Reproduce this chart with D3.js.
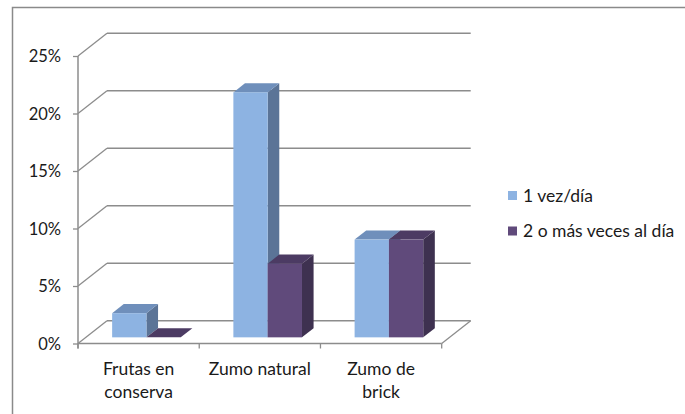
<!DOCTYPE html>
<html>
<head>
<meta charset="utf-8">
<script src="https://cdn.jsdelivr.net/npm/d3@7/dist/d3.min.js"></script>
<style>
  html, body { margin: 0; padding: 0; background: #fff; }
  svg { display: block; }
  text { font-family: Lato, "Open Sans", sans-serif; fill: #1a1a1a; }
</style>
</head>
<body>
<svg id="chart" width="685" height="414"></svg>
<script>
// Chart data
const categories = [["Frutas en", "conserva"], ["Zumo natural"], ["Zumo de", "brick"]];
const seriesNames = ["1 vez/día", "2 o más veces al día"];
const seriesOnce = [2.1, 21.3, 8.5];
const seriesTwice = [0, 6.4, 8.5];
const yTicks = [0, 5, 10, 15, 20, 25];

// Faces: front, top, side
const palettes = [
  { front: "#8db3e2", top: "#6f8fbb", side: "#5b7497" },
  { front: "#604a7b", top: "#4c3b63", side: "#3e3150" }
];

const svg = d3.select("#chart");

// Outer frame
svg.append("rect")
  .attr("x", 12.5).attr("y", 7.5)
  .attr("width", 690).attr("height", 420)
  .attr("fill", "none").attr("stroke", "#8a8a8a").attr("stroke-width", 1.5);

// Front plane geometry and oblique depth offset
const x0 = 78, x1 = 441.7;
const y = d3.scaleLinear().domain([0, 25]).range([343.5, 56]);
const depth = { dx: 29, dy: -22.8 };
const off = t => [depth.dx * t, depth.dy * t];

const xCat = d3.scaleBand().domain(d3.range(categories.length)).range([x0, x1]);

const g = svg.append("g");
const gridColor = "#8c8c8c";

// Back wall gridlines with the diagonal joins to the front axis
const [bx, by] = off(1);
yTicks.forEach(v => {
  g.append("line")
    .attr("x1", x0 + bx).attr("x2", x1 + bx)
    .attr("y1", y(v) + by).attr("y2", y(v) + by)
    .attr("stroke", gridColor).attr("stroke-width", 1.5);
  g.append("line")
    .attr("x1", x0).attr("y1", y(v))
    .attr("x2", x0 + bx).attr("y2", y(v) + by)
    .attr("stroke", gridColor).attr("stroke-width", 1.3);
});

// Floor: front edge and right edge
g.append("line")
  .attr("x1", x0).attr("x2", x1).attr("y1", y(0)).attr("y2", y(0))
  .attr("stroke", gridColor).attr("stroke-width", 1.5);
g.append("line")
  .attr("x1", x1).attr("y1", y(0)).attr("x2", x1 + bx).attr("y2", y(0) + by)
  .attr("stroke", gridColor).attr("stroke-width", 1.3);

// Category ticks under the floor
xCat.domain().concat([categories.length]).forEach(i => {
  const xx = i < categories.length ? xCat(i) : x1;
  g.append("line")
    .attr("x1", xx).attr("x2", xx).attr("y1", y(0)).attr("y2", y(0) + 5)
    .attr("stroke", gridColor).attr("stroke-width", 1.3);
});

// Value axis
const yAxis = d3.axisLeft(y).tickValues(yTicks).tickSize(5).tickSizeOuter(0)
  .tickFormat(d => d + "%");
const ag = g.append("g").attr("transform", `translate(${x0},0)`).call(yAxis);
ag.select(".domain").attr("stroke", gridColor).attr("stroke-width", 1.5)
  .attr("d", `M0,${y(25)}V${y(0) + 5}`);
ag.selectAll(".tick line").attr("stroke", gridColor).attr("stroke-width", 1.3);
ag.selectAll(".tick text")
  .attr("x", -17).attr("dy", "0.36em")
  .style("font-size", "16.5px").style("font-family", "Lato, sans-serif").attr("fill", "#1a1a1a");

// 3D bars
const tFront = 0.27, tBack = 0.67;
const [fdx, fdy] = off(tFront);
const [ddx, ddy] = [depth.dx * (tBack - tFront), depth.dy * (tBack - tFront)];
const barW = xCat.bandwidth() * 0.283;
const xSeries = d3.scaleBand().domain(d3.range(seriesNames.length))
  .range([-barW, barW]);

const allSeries = [seriesOnce, seriesTwice];
const barsG = g.append("g");
categories.forEach((c, ci) => {
  allSeries.forEach((vals, si) => {
    const v = vals[ci];
    const pal = palettes[si];
    const left = xCat(ci) + xCat.bandwidth() / 2 + xSeries(si) + fdx;
    const right = left + xSeries.bandwidth();
    const bottom = y(0) + fdy;
    const top = y(v) + fdy;
    const bar = barsG.append("g");
    // side face
    bar.append("path")
      .attr("d", `M${right},${bottom}L${right + ddx},${bottom + ddy}L${right + ddx},${top + ddy}L${right},${top}Z`)
      .attr("fill", pal.side);
    // top face
    bar.append("path")
      .attr("d", `M${left},${top}L${left + ddx},${top + ddy}L${right + ddx},${top + ddy}L${right},${top}Z`)
      .attr("fill", pal.top);
    // front face
    if (v > 0) {
      bar.append("rect")
        .attr("x", left).attr("y", top)
        .attr("width", right - left).attr("height", bottom - top)
        .attr("fill", pal.front);
    }
  });
});

// Category labels
categories.forEach((lines, ci) => {
  const cx = xCat(ci) + xCat.bandwidth() / 2;
  lines.forEach((line, li) => {
    g.append("text")
      .attr("x", cx).attr("y", 375 + li * 22.5)
      .attr("text-anchor", "middle")
      .style("font-size", "17.5px")
      .text(line);
  });
});

// Legend
const legend = svg.append("g").attr("transform", "translate(508,191)");
seriesNames.forEach((name, i) => {
  const row = legend.append("g").attr("transform", `translate(0,${i * 35.5})`);
  row.append("rect").attr("width", 9).attr("height", 9).attr("fill", palettes[i].front);
  row.append("text").attr("x", 15).attr("y", 10.5).style("font-size", "17.5px").text(name);
});
</script>
</body>
</html>
